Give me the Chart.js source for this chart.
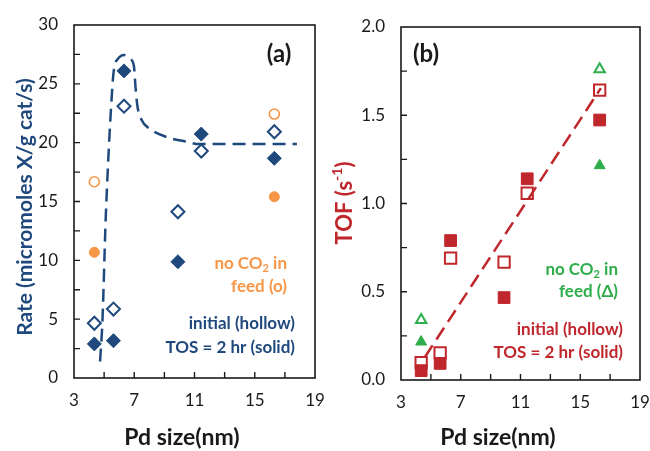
<!DOCTYPE html>
<html><head><meta charset="utf-8">
<script src="https://cdn.jsdelivr.net/npm/chart.js@4"></script>
<style>
body{margin:0;background:#fff;}
#wrap{position:relative;width:650px;height:451px;overflow:hidden;}
.pane{position:absolute;top:0;width:325px;height:451px;}
</style>
</head><body>
<div id="wrap">
 <div class="pane" style="left:0"><canvas id="ca" width="325" height="451"></canvas></div>
 <div class="pane" style="left:325px"><canvas id="cb" width="325" height="451"></canvas></div>
</div>
<script>
// ---------- data ----------
const pdSizes = [4.35, 5.62, 6.32, 9.9, 11.45, 16.3];          // nm
const pdSizesNoCO2 = [4.35, 16.3];
// panel (a) rate, micromoles X / g cat / s
const rateInitial = [4.65, 5.86, 23.1, 14.13, 19.29, 20.93];
const rateTOS2h  = [2.9, 3.17, 26.1, 9.88, 20.73, 18.67];
const rateNoCO2Initial = [16.68, 22.43];
const rateNoCO2TOS2h   = [10.68, 15.4];
// dashed trend curve in (a)
const trendAx = [4.73, 4.89, 5.11, 5.56, 5.67, 5.9, 6.33, 6.75, 6.98, 7.08, 7.2, 7.5, 8.0, 9.1, 10.4, 11.33, 17.8];
const trendAy = [1.4, 4.9, 13.7, 25.0, 26.4, 27.1, 27.45, 27.1, 26.5, 24.8, 23.2, 21.9, 21.2, 20.5, 20.1, 19.88, 19.88];
// panel (b) TOF, s^-1
const tofInitial = [0.098, 0.154, 0.69, 0.668, 1.058, 1.642];
const tofTOS2h   = [0.053, 0.094, 0.79, 0.467, 1.14, 1.473];
const tofNoCO2Initial = [0.34, 1.76];
const tofNoCO2TOS2h   = [0.216, 1.215];
const trendBx = [4.6, 16.38];
const trendBy = [0.13, 1.654];
// axis ticks
const xTickLabels = [3, 7, 11, 15, 19];
const yTickLabelsA = [0, 5, 10, 15, 20, 25, 30];
const yTickLabelsB = [0, 0.5, 1.0, 1.5, 2.0];

// ---------- styling ----------
const NAVY = '#1F497D', ORANGE = '#F79646', RED = '#C0272D', GREEN = '#2EAD4B', INK = '#1a1a1a';
const FONT = 'Lato, "Open Sans", sans-serif';
const pts = (xs, ys) => xs.map((x, i) => ({x, y: ys[i]}));

function richDraw(ctx, segs, x, y, align, size, weight, color, rot) {
  ctx.save();
  ctx.translate(x, y);
  if (rot) ctx.rotate(rot);
  ctx.fillStyle = color;
  ctx.textBaseline = 'middle';
  ctx.textAlign = 'left';
  const fontOf = s => `${weight} ${s.sub || s.sup ? Math.round(size * 0.62) : size}px ${FONT}`;
  let total = 0;
  segs.forEach(s => { ctx.font = fontOf(s); total += ctx.measureText(s.t).width; });
  let cx = align === 'right' ? -total : (align === 'center' ? -total / 2 : 0);
  segs.forEach(s => {
    ctx.font = fontOf(s);
    const dy = s.sub ? size * 0.28 : (s.sup ? -size * 0.32 : 0);
    ctx.fillText(s.t, cx, dy);
    cx += ctx.measureText(s.t).width;
  });
  ctx.restore();
}

const framePlugin = {
  id: 'frameTicks',
  afterDraw(chart) {
    const {ctx, chartArea: a, scales} = chart;
    ctx.save();
    ctx.strokeStyle = INK;
    ctx.lineWidth = 1.6;
    ctx.strokeRect(a.left, a.top, a.right - a.left, a.bottom - a.top);
    ctx.lineWidth = 1.4;
    ctx.beginPath();
    scales.x.ticks.forEach(t => {
      const px = scales.x.getPixelForValue(t.value);
      if (px <= a.left + 1 || px >= a.right - 1) return;
      ctx.moveTo(px, a.bottom); ctx.lineTo(px, a.bottom - 6);
    });
    scales.y.ticks.forEach(t => {
      const py = scales.y.getPixelForValue(t.value);
      if (py <= a.top + 1 || py >= a.bottom - 1) return;
      ctx.moveTo(a.left, py); ctx.lineTo(a.left + 6, py);
    });
    ctx.stroke();
    ctx.restore();
    const texts = chart.options.plugins.frameTicks.texts || [];
    texts.forEach(tx => richDraw(ctx, tx.segs, tx.x, tx.y, tx.align, tx.size, tx.weight, tx.color, tx.rot));
  }
};

function baseScales(xLabels, yLabels, yMin, yMax, yStep, yWidth, xHeight, yFmt) {
  return {
    x: {
      type: 'linear', min: 3, max: 19,
      grid: {display: false, drawTicks: false}, border: {display: false},
      ticks: {stepSize: 2, autoSkip: false, maxRotation: 0, padding: 12, color: INK,
        font: {family: FONT, size: 17},
        callback: v => xLabels.includes(v) ? String(v) : ''},
      afterFit: s => { s.height = xHeight; s.paddingLeft = 0; s.paddingRight = 0; }
    },
    y: {
      type: 'linear', min: yMin, max: yMax,
      grid: {display: false, drawTicks: false}, border: {display: false},
      ticks: {stepSize: yStep, autoSkip: false, padding: 16, color: INK,
        font: {family: FONT, size: 17},
        callback: v => yLabels.some(l => Math.abs(l - v) < 1e-6) ? yFmt(v) : ''},
      afterFit: s => { s.width = yWidth; s.paddingTop = 0; s.paddingBottom = 0; }
    }
  };
}

const common = {
  responsive: false, animation: false, events: [],
  plugins: {legend: {display: false}, tooltip: {enabled: false}}
};

// ---------- panel (a) ----------
new Chart(document.getElementById('ca'), {
  type: 'scatter',
  data: {datasets: [
    {data: pts(pdSizes, rateInitial), pointStyle: 'rectRot', pointRadius: 6.5, borderWidth: 2,
     borderColor: NAVY, backgroundColor: 'rgba(0,0,0,0)'},
    {data: pts(pdSizes, rateTOS2h), pointStyle: 'rectRot', pointRadius: 7, borderWidth: 1,
     borderColor: NAVY, backgroundColor: NAVY},
    {data: pts(pdSizesNoCO2, rateNoCO2Initial), pointStyle: 'circle', pointRadius: 5, borderWidth: 1.6,
     borderColor: ORANGE, backgroundColor: 'rgba(0,0,0,0)'},
    {data: pts(pdSizesNoCO2, rateNoCO2TOS2h), pointStyle: 'circle', pointRadius: 5, borderWidth: 1,
     borderColor: ORANGE, backgroundColor: ORANGE},
    {data: pts(trendAx, trendAy), showLine: true, pointRadius: 0, borderColor: NAVY, borderWidth: 2.5,
     borderDash: [13, 7], cubicInterpolationMode: 'monotone', fill: false}
  ]},
  options: Object.assign({}, common, {
    layout: {padding: {left: 0, right: 10, top: 25, bottom: 0}},
    scales: baseScales(xTickLabels, yTickLabelsA, 0, 30, 2.5, 74, 73, v => String(v)),
    plugins: Object.assign({}, common.plugins, {frameTicks: {texts: [
      {segs: [{t: '(a)'}], x: 279, y: 54, align: 'center', size: 24, weight: 'bold', color: INK},
      {segs: [{t: 'no CO'}, {t: '2', sub: true}, {t: ' in'}], x: 287, y: 264, align: 'right', size: 17, weight: 'bold', color: ORANGE},
      {segs: [{t: 'feed (o)'}], x: 287, y: 287, align: 'right', size: 17, weight: 'bold', color: ORANGE},
      {segs: [{t: 'initial (hollow)'}], x: 295, y: 324, align: 'right', size: 17, weight: 'bold', color: NAVY},
      {segs: [{t: 'TOS = 2 hr (solid)'}], x: 295, y: 348, align: 'right', size: 17, weight: 'bold', color: NAVY},
      {segs: [{t: 'Rate (micromoles X/g cat/s)'}], x: 25, y: 207, align: 'center', size: 21, weight: 'bold', color: NAVY, rot: -Math.PI / 2},
      {segs: [{t: 'Pd size(nm)'}], x: 182, y: 438, align: 'center', size: 23, weight: 'bold', color: INK}
    ]}})
  }),
  plugins: [framePlugin]
});

// ---------- panel (b) ----------
new Chart(document.getElementById('cb'), {
  type: 'scatter',
  data: {datasets: [
    {data: pts(pdSizes, tofInitial), pointStyle: 'rect', pointRadius: 8, borderWidth: 2,
     borderColor: RED, backgroundColor: 'rgba(0,0,0,0)'},
    {data: pts(pdSizes, tofTOS2h), pointStyle: 'rect', pointRadius: 8.3, borderWidth: 1,
     borderColor: RED, backgroundColor: RED},
    {data: pts(pdSizesNoCO2, tofNoCO2Initial), pointStyle: 'triangle', pointRadius: 6, borderWidth: 2,
     borderColor: GREEN, backgroundColor: 'rgba(0,0,0,0)'},
    {data: pts(pdSizesNoCO2, tofNoCO2TOS2h), pointStyle: 'triangle', pointRadius: 6.3, borderWidth: 1,
     borderColor: GREEN, backgroundColor: GREEN},
    {data: pts(trendBx, trendBy), showLine: true, pointRadius: 0, borderColor: RED, borderWidth: 2.5,
     borderDash: [14, 7], fill: false}
  ]},
  options: Object.assign({}, common, {
    layout: {padding: {left: 0, right: 8, top: 27, bottom: 0}},
    scales: baseScales(xTickLabels, yTickLabelsB, 0, 2, 0.25, 76, 71, v => v.toFixed(1)),
    plugins: Object.assign({}, common.plugins, {frameTicks: {texts: [
      {segs: [{t: '(b)'}], x: 101, y: 54, align: 'center', size: 24, weight: 'bold', color: INK},
      {segs: [{t: 'no CO'}, {t: '2', sub: true}, {t: ' in'}], x: 293, y: 270, align: 'right', size: 17, weight: 'bold', color: GREEN},
      {segs: [{t: 'feed (Δ)'}], x: 293, y: 292, align: 'right', size: 17, weight: 'bold', color: GREEN},
      {segs: [{t: 'initial (hollow)'}], x: 298, y: 330, align: 'right', size: 17, weight: 'bold', color: RED},
      {segs: [{t: 'TOS = 2 hr (solid)'}], x: 298, y: 353, align: 'right', size: 17, weight: 'bold', color: RED},
      {segs: [{t: 'TOF (s'}, {t: '-1', sup: true}, {t: ')'}], x: 20, y: 203, align: 'center', size: 22, weight: 'bold', color: RED, rot: -Math.PI / 2},
      {segs: [{t: 'Pd size(nm)'}], x: 173, y: 438, align: 'center', size: 23, weight: 'bold', color: INK}
    ]}})
  }),
  plugins: [framePlugin]
});
</script>
</body></html>
